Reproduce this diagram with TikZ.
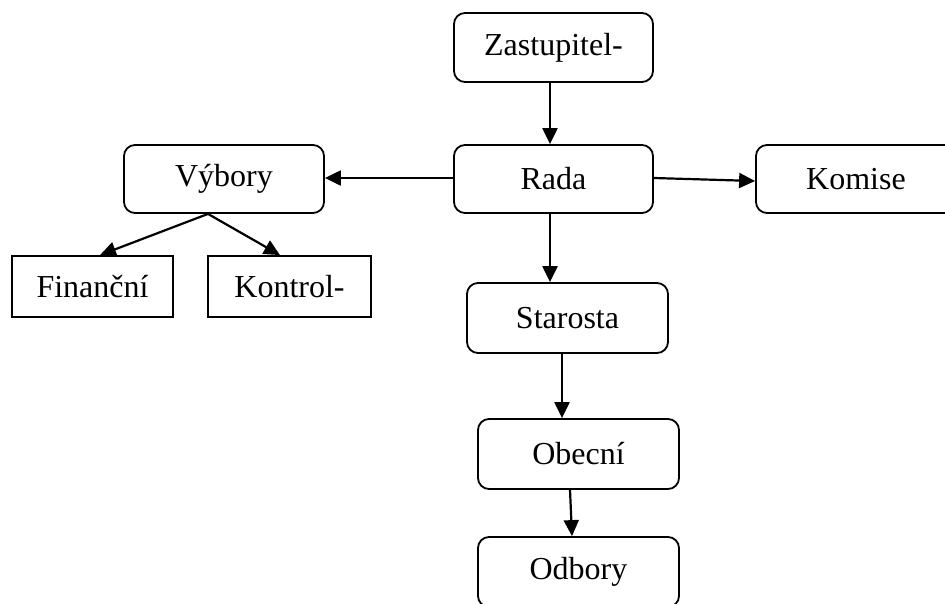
\documentclass[tikz,border=0pt]{standalone}
\usepackage{fontspec}
\setmainfont{Liberation Serif}
\usetikzlibrary{arrows.meta}
\tikzset{
  rbox/.style={draw, line width=1.8pt, rounded corners=11pt, font=\fontsize{32}{36}\selectfont,
               minimum width=200pt, minimum height=68pt, inner sep=0pt},
  sbox/.style={draw, line width=1.8pt, font=\fontsize{32}{36}\selectfont,
               minimum height=61pt, inner sep=0pt},
  link/.style={line width=2.2pt, -{Triangle[length=16pt,width=15pt]}}
}
\begin{document}
\begin{tikzpicture}[x=1pt,y=-1pt]
\useasboundingbox (0,0) rectangle (945,603);
\clip (0,0) rectangle (945,603);
% boxes
\node[rbox, minimum width=199pt, minimum height=69pt] (zast) at (553.5,47.5) {Zastupitel-};
\node[rbox, minimum width=199pt] (rada) at (553.5,179) {Rada};
\node[rbox] (vybory) at (224,179) {Výbory};
\node[rbox, minimum width=200pt] (komise) at (856,179) {Komise};
\node[sbox, minimum width=161pt] (fin) at (92.5,286.5) {Finanční};
\node[sbox, minimum width=163pt] (kon) at (289.5,286.5) {Kontrol-};
\node[rbox, minimum width=201pt, minimum height=70pt] (star) at (567.5,318) {Starosta};
\node[rbox, minimum width=201pt, minimum height=70pt] (obec) at (578.5,454) {Obecní};
\node[rbox, minimum width=201pt, minimum height=70pt] (odb) at (578.5,572) {Odbory};
% connectors
\draw[link] ([xshift=-3.5pt]zast.south) -- ([xshift=-3.5pt]rada.north);
\draw[link] ([yshift=1pt]rada.west) -- ([yshift=1pt]vybory.east);
\draw[link] ([yshift=1pt]rada.east) -- ([yshift=-2pt]komise.west);
\draw[link] ([xshift=-16pt]vybory.south) -- ([xshift=7.5pt]fin.north);
\draw[link] ([xshift=-16pt]vybory.south) -- ([xshift=-9.5pt]kon.north);
\draw[link] ([xshift=-3.5pt]rada.south) -- ([xshift=-17.5pt]star.north);
\draw[link] ([xshift=-5.5pt]star.south) -- ([xshift=-16.5pt]obec.north);
\draw[link] ([xshift=-8.5pt]obec.south) -- ([xshift=-6.5pt]odb.north);
\end{tikzpicture}
\end{document}
